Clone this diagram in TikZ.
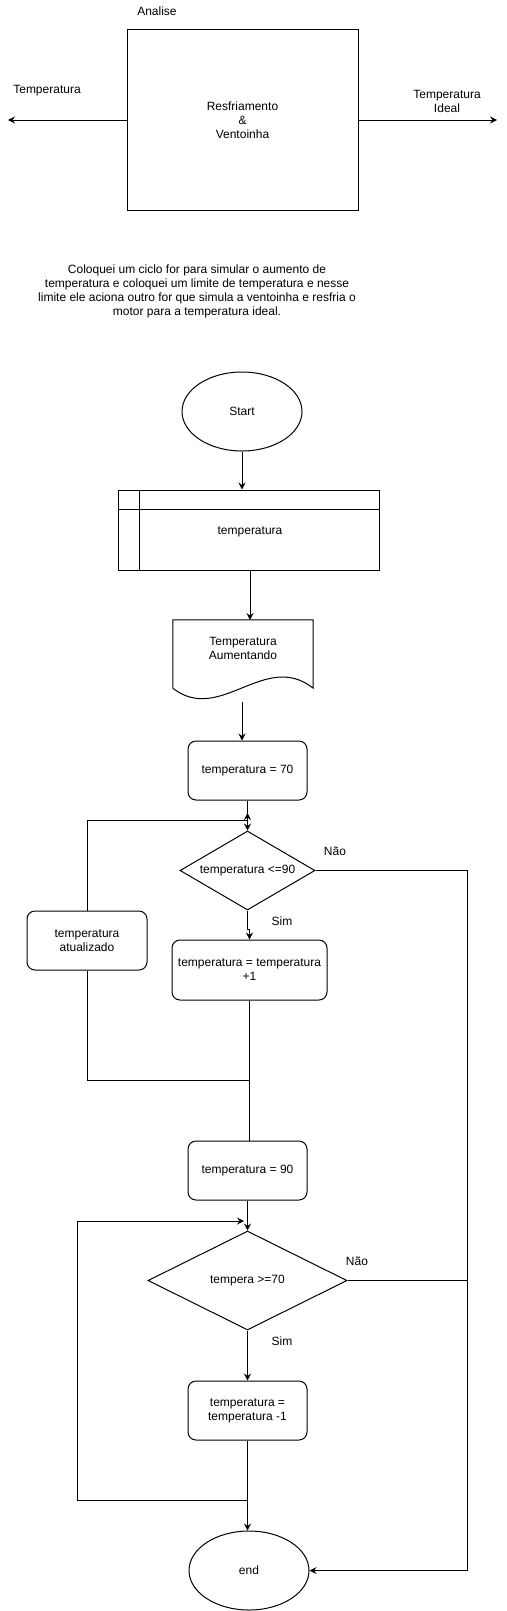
\documentclass[tikz,border=0pt]{standalone}
\usepackage{fontspec}
\setmainfont{Liberation Sans}
\usetikzlibrary{arrows.meta,shapes.geometric}
\begin{document}
\begin{tikzpicture}[x=1pt,y=-1pt,
  every node/.style={font=\fontsize{12}{14}\selectfont, align=center, inner sep=0pt},
  txt/.style={},
  box/.style={draw, line width=1pt, minimum width=119pt, minimum height=59pt},
  rbox/.style={box, rounded corners=8pt},
  ell/.style={draw, line width=1pt, ellipse, minimum width=120pt, minimum height=79pt},
  dia/.style={draw, line width=1pt, diamond},
  ln/.style={line width=1pt},
  arr/.style={line width=1pt, -{Stealth[length=7pt,width=7pt,inset=2.5pt]}}
]
\useasboundingbox (0,0) rectangle (506,1611);

% ---------- top section ----------
\node[txt] (analise) at (157,11) {Analise};
\node[box, minimum width=231pt, minimum height=180pt] (sys) at (242.5,120) {Resfriamento\\\&\\Ventoinha};
\coordinate (lt) at (8,120);
\coordinate (rt) at (497,120);
\draw[arr] (sys.west) -- (lt);
\draw[arr] (sys.east) -- (rt);
\node[txt] (tleft) at (47,91) {Temperatura};
\node[txt] (tright) at (447,101) {Temperatura\\Ideal};
\node[txt] (para) at (197,291) {Coloquei um ciclo for para simular o aumento de\\temperatura e coloquei um limite de temperatura e nesse\\limite ele aciona outro for que simula a ventoinha e resfria o\\motor para a temperatura ideal.};

% ---------- flowchart ----------
\node[ell] (start) at (242,411.5) {Start};

\node[draw, line width=1pt, minimum width=261pt, minimum height=80pt] (proc) at (248.5,530) {};
\node[txt] (proct) at (250,532) {temperatura};
\draw[ln] (proc.north west) ++(22,0) -- ++(0,80);
\draw[ln] (proc.north west) ++(0,20) -- ++(261,0);

\node[minimum width=140pt, minimum height=68pt] (doc) at (243,654) {};
\draw[ln] (doc.south west) -- (doc.north west) -- (doc.north east) -- (doc.south east)
  .. controls (265,650) and (220,725) .. (doc.south west);
\node[txt] (doct) at (243,648.5) {Temperatura\\Aumentando};

\node[rbox] (b70) at (247.5,770.5) {temperatura = 70};
\node[dia, minimum width=135pt, minimum height=79pt, aspect=1.71] (d1) at (247.5,870.5) {temperatura <=90};
\node[txt] (nao1) at (335,851) {Não};
\node[txt] (sim1) at (282,921) {Sim};
\node[rbox, minimum width=155pt, minimum height=60pt] (bp1) at (249.5,970) {temperatura = temperatura\\+1};
\node[rbox, minimum width=120pt] (atual) at (87,940.5) {temperatura\\atualizado};

\node[rbox] (b90) at (247.5,1170.5) {temperatura = 90};
\node[dia, minimum width=199pt, minimum height=99pt, aspect=2.01] (d2) at (247.5,1280.5) {tempera >=70};
\node[txt] (nao2) at (357,1261) {Não};
\node[txt] (sim2) at (282,1341) {Sim};
\node[rbox] (bm1) at (247.5,1410.5) {temperatura =\\temperatura -1};
\node[ell, minimum width=120pt, minimum height=79pt] (endn) at (249,1570.5) {end};

% connectors
\coordinate (c1) at (250,620);
\coordinate (c2) at (242,702);
\coordinate (j1) at (247.5,820);
\coordinate (j1u) at (247.5,813);
\coordinate (j2) at (249.5,1080);
\coordinate (rx) at (467,0);
\coordinate (lx) at (77,0);
\coordinate (j3) at (247.5,1500);
\coordinate (j4) at (244,1221);

\draw[arr] (start.south) -- (start.south |- proc.north);
\draw[arr] (c1 |- proc.south) -- (c1);
\draw[arr] (c2) -- (c2 |- b70.north);
\draw[arr] (b70.south) -- (d1.north);
\draw[arr] (atual.north) |- (j1) -- (j1u);
\draw[arr] (d1.south) -- ++(0,19) -| (bp1.north);
\draw[ln] (bp1.south) -- (j2) -| (atual.south);
\draw[ln] (j2) -- (j2 |- b90.north);
\draw[arr] (d1.east) -- (d1.east -| rx) |- (endn.east);
\draw[arr] (b90.south) -- (d2.north);
\draw[ln] (d2.east) -- (d2.east -| rx);
\draw[arr] (d2.south) -- (bm1.north);
\draw[arr] (bm1.south) -- (bm1.south |- endn.north);
\draw[arr] (j3) -- (j3 -| lx) |- (j4);
\end{tikzpicture}
\end{document}
